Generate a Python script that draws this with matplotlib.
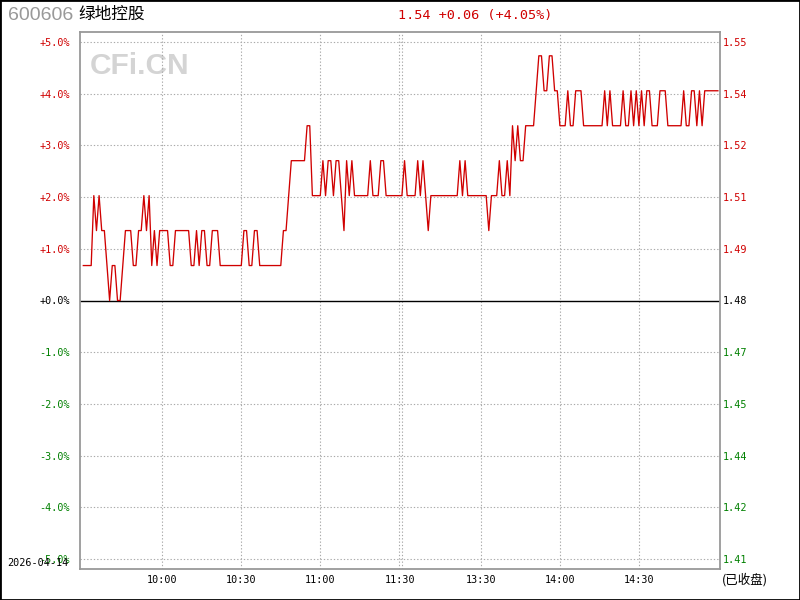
import matplotlib
matplotlib.use('Agg')
import matplotlib.pyplot as plt
from matplotlib.patches import Rectangle
import numpy as np

# Stock info
code = '600606'
name = '绿地控股'
prev_close = 1.48
last_price = 1.54
date_str = '2026-04-14'
status = '(已收盘)'

# Time axis (minute index from 9:30, 11:30 and 13:00 are neighbours)
time_labels = ['10:00', '10:30', '11:00', '11:30', '13:30', '14:00', '14:30']
time_label_pos = [30, 60, 90, 120.5, 151, 181, 211]
time_grid_pos = [30, 60, 90, 120, 121, 151, 181, 211]
pct_ticks = [-5, -4, -3, -2, -1, 0, 1, 2, 3, 4, 5]

# Minute prices
prices = [
    1.49, 1.49, 1.49, 1.49, 1.51, 1.50, 1.51, 1.50, 1.50, 1.49,
    1.48, 1.49, 1.49, 1.48, 1.48, 1.49, 1.50, 1.50, 1.50, 1.49,
    1.49, 1.50, 1.50, 1.51, 1.50, 1.51, 1.49, 1.50, 1.49, 1.50,
    1.50, 1.50, 1.50, 1.49, 1.49, 1.50, 1.50, 1.50, 1.50, 1.50,
    1.50, 1.49, 1.49, 1.50, 1.49, 1.50, 1.50, 1.49, 1.49, 1.50,
    1.50, 1.50, 1.49, 1.49, 1.49, 1.49, 1.49, 1.49, 1.49, 1.49,
    1.49, 1.50, 1.50, 1.49, 1.49, 1.50, 1.50, 1.49, 1.49, 1.49,
    1.49, 1.49, 1.49, 1.49, 1.49, 1.49, 1.50, 1.50, 1.51, 1.52,
    1.52, 1.52, 1.52, 1.52, 1.52, 1.53, 1.53, 1.51, 1.51, 1.51,
    1.51, 1.52, 1.51, 1.52, 1.52, 1.51, 1.52, 1.52, 1.51, 1.50,
    1.52, 1.51, 1.52, 1.51, 1.51, 1.51, 1.51, 1.51, 1.51, 1.52,
    1.51, 1.51, 1.51, 1.52, 1.52, 1.51, 1.51, 1.51, 1.51, 1.51,
    1.51, 1.51, 1.52, 1.51, 1.51, 1.51, 1.51, 1.52, 1.51, 1.52,
    1.51, 1.50, 1.51, 1.51, 1.51, 1.51, 1.51, 1.51, 1.51, 1.51,
    1.51, 1.51, 1.51, 1.52, 1.51, 1.52, 1.51, 1.51, 1.51, 1.51,
    1.51, 1.51, 1.51, 1.51, 1.50, 1.51, 1.51, 1.51, 1.52, 1.51,
    1.51, 1.52, 1.51, 1.53, 1.52, 1.53, 1.52, 1.52, 1.53, 1.53,
    1.53, 1.53, 1.54, 1.55, 1.55, 1.54, 1.54, 1.55, 1.55, 1.54,
    1.54, 1.53, 1.53, 1.53, 1.54, 1.53, 1.53, 1.54, 1.54, 1.54,
    1.53, 1.53, 1.53, 1.53, 1.53, 1.53, 1.53, 1.53, 1.54, 1.53,
    1.54, 1.53, 1.53, 1.53, 1.53, 1.54, 1.53, 1.53, 1.54, 1.53,
    1.54, 1.53, 1.54, 1.53, 1.54, 1.54, 1.53, 1.53, 1.53, 1.54,
    1.54, 1.54, 1.53, 1.53, 1.53, 1.53, 1.53, 1.53, 1.54, 1.53,
    1.53, 1.54, 1.54, 1.53, 1.54, 1.53, 1.54, 1.54, 1.54, 1.54,
    1.54, 1.54,
]

RED = '#d00000'
GREEN = '#008000'
MONO = 'DejaVu Sans Mono'
CJK = ['Noto Sans CJK SC', 'DejaVu Sans']


def color_for(v):
    if v > 0:
        return RED
    if v < 0:
        return GREEN
    return 'black'


fig = plt.figure(figsize=(8, 6), dpi=100)
fig.patch.set_facecolor('white')
ax = fig.add_axes([80 / 800, 1 - 569 / 600, 640 / 800, 537 / 600])

pct = (np.array(prices) / prev_close - 1) * 100
x = np.arange(len(prices))

ylim = (-5.19, 5.19)
xlim = (-1.25, 241.8)

# grid
for v in pct_ticks:
    if v == 0:
        continue
    ax.axhline(v, color='#aaaaaa', lw=0.8, ls=(0, (1.2, 1.8)), zorder=1)
for t in time_grid_pos:
    ax.axvline(t, color='#aaaaaa', lw=0.8, ls=(0, (1.2, 1.8)), zorder=1)
ax.axhline(0, color='black', lw=1.0, zorder=2)

ax.plot(x, pct, color=RED, lw=0.95, zorder=3)

ax.set_xlim(*xlim)
ax.set_ylim(*ylim)
for s in ax.spines.values():
    s.set_color('#999999')
    s.set_linewidth(1.3)

ax.set_yticks(pct_ticks)
ax.set_yticklabels(['%+.1f%%' % v if v != 0 else '+0.0%' for v in pct_ticks],
                   fontsize=7.3, family=MONO)
for lab, v in zip(ax.get_yticklabels(), pct_ticks):
    lab.set_color(color_for(v))
ax.tick_params(axis='y', length=0, pad=7)

ax.set_xticks(time_label_pos)
ax.set_xticklabels(time_labels, fontsize=7.3, family=MONO)
ax.tick_params(axis='x', length=0, pad=4)

# right price axis
rax = ax.twinx()
rax.set_ylim(*ylim)
rax.set_yticks(pct_ticks)
rax.set_yticklabels(['%.2f' % (prev_close * (1 + v / 100.)) for v in pct_ticks],
                    fontsize=7.3, family=MONO)
for lab, v in zip(rax.get_yticklabels(), pct_ticks):
    lab.set_color(color_for(v))
rax.tick_params(axis='y', length=0, pad=2)
for s in rax.spines.values():
    s.set_visible(False)

# watermark
ax.text(90 / 800, 1 - 66 / 600, 'CFi.CN', transform=fig.transFigure,
        fontsize=21.5, fontweight='bold', family='Liberation Sans',
        color='#d4d4d4', va='center', ha='left', zorder=0)

# header
fig.text(8 / 800, 1 - 16 / 600, code, fontsize=14, family='Liberation Sans',
         color='#999999', va='center', ha='left')
fig.text(78 / 800, 1 - 14.5 / 600, name, fontsize=12, family=CJK,
         color='black', va='center', ha='left')
chg = last_price - prev_close
head = '%.2f %+.2f (%+.2f%%)' % (last_price, chg, chg / prev_close * 100)
fig.text(398 / 800, 1 - 15 / 600, head, fontsize=9.7, family=MONO,
         color=RED, va='center', ha='left')

# footer
fig.text(7 / 800, 1 - 562.5 / 600, date_str, fontsize=7.3, family=MONO,
         color='black', va='center', ha='left')
fig.text(722 / 800, 1 - 580 / 600, status, fontsize=9, family=CJK,
         color='black', va='center', ha='left')

fig.patches.append(Rectangle((0, 0), 1, 1, transform=fig.transFigure,
                             fill=False, ec='black', lw=2))

fig.savefig('out.png', dpi=100)
